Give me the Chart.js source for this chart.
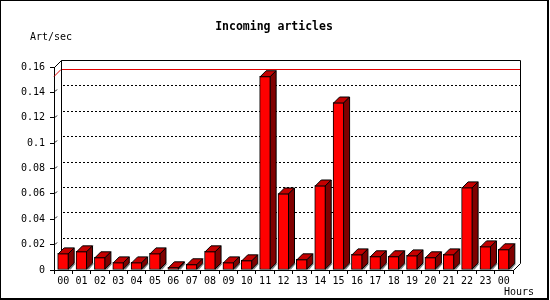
<!DOCTYPE html>
<html><head><meta charset="utf-8">
<script src="https://cdn.jsdelivr.net/npm/chart.js@4/dist/chart.umd.min.js"></script>
<style>html,body{margin:0;padding:0;background:#fff}#wrap{width:550px;height:300px}</style>
</head><body><div id="wrap"><canvas id="c" width="550" height="300"></canvas></div>
<script>
const hours = ['00','01','02','03','04','05','06','07','08','09','10','11','12','13','14','15','16','17','18','19','20','21','22','23','00'];
const articlesPerSec = [0.0131,0.0147,0.0100,0.0060,0.0060,0.0131,0.0021,0.0045,0.0147,0.0060,0.0076,0.1527,0.0603,0.0084,0.0666,0.1320,0.0123,0.0108,0.0108,0.0115,0.0100,0.0123,0.0651,0.0186,0.0163];
const yTickLabels = ['0','0.02','0.04','0.06','0.08','0.1','0.12','0.14','0.16'];
const chartTitle = 'Incoming articles';
const yAxisTitle = 'Art/sec';
const xAxisTitle = 'Hours';

const FONT = '"DejaVu Sans Mono", monospace';
const D = 6;   // bar depth
const W = 7;   // wall depth

function poly(ctx, pts, fill){
  ctx.beginPath();
  ctx.moveTo(pts[0][0], pts[0][1]);
  for (let i=1;i<pts.length;i++) ctx.lineTo(pts[i][0], pts[i][1]);
  ctx.closePath();
  if (fill){ ctx.fillStyle = fill; ctx.fill(); }
  ctx.stroke();
}

const threeD = {
  id: 'threeD',
  beforeDatasetsDraw(chart){
    const {ctx, chartArea:a, scales:{x, y}} = chart;
    ctx.save();
    ctx.lineWidth = 1;
    ctx.strokeStyle = '#000';
    // back-wall dotted grid lines
    ctx.setLineDash([2,2]);
    y.ticks.forEach(t => {
      if (t.value <= 0 || t.value >= y.max) return;
      const py = Math.round(y.getPixelForValue(t.value)) - W + 0.5;
      ctx.beginPath(); ctx.moveTo(a.left + W + 2, py); ctx.lineTo(a.right + W, py); ctx.stroke();
    });
    ctx.setLineDash([]);
    // short depth connectors
    y.ticks.forEach(t => {
      if (t.value <= 0 || t.value >= y.max) return;
      const py = Math.round(y.getPixelForValue(t.value)) + 0.5;
      ctx.beginPath(); ctx.moveTo(a.left + 1, py - 1); ctx.lineTo(a.left + 3, py - 3); ctx.stroke();
    });
    // red max line
    const max = Math.max(...chart.data.datasets[0].data);
    const pm = Math.round(y.getPixelForValue(max)) + 0.5;
    ctx.strokeStyle = '#e00000';
    ctx.beginPath(); ctx.moveTo(a.left, pm); ctx.lineTo(a.left + W, pm - W); ctx.lineTo(a.right + W, pm - W); ctx.stroke();
    // back wall outline
    ctx.strokeStyle = '#000';
    const L = Math.round(a.left) + 0.5, R = Math.round(a.right) + 0.5, T = Math.round(a.top) + 0.5, B = Math.round(a.bottom) + 0.5;
    ctx.beginPath();
    ctx.moveTo(L, T); ctx.lineTo(L + W, T - W); ctx.lineTo(R + W, T - W); ctx.lineTo(R + W, B - W); ctx.lineTo(R, B);
    ctx.moveTo(L + W, T - W); ctx.lineTo(L + W, B - W);
    ctx.stroke();
    // floor shadows
    const meta = chart.getDatasetMeta(0);
    ctx.fillStyle = '#808080';
    meta.data.forEach(bar => {
      const p = bar.getProps(['x','base','width'], true);
      const r = p.x + p.width/2, b = p.base;
      ctx.beginPath();
      ctx.moveTo(r - 1, b); ctx.lineTo(r - 1 + D, b - D); ctx.lineTo(r + D + 1, b - D); ctx.lineTo(r + 2, b);
      ctx.closePath(); ctx.fill();
    });
    ctx.restore();
  },
  afterDatasetsDraw(chart){
    const {ctx} = chart;
    const meta = chart.getDatasetMeta(0);
    ctx.save();
    ctx.lineWidth = 1;
    ctx.strokeStyle = '#000';
    meta.data.forEach(bar => {
      const p = bar.getProps(['x','y','base','width'], true);
      const l = p.x - p.width/2 + 0.5, r = p.x + p.width/2 - 0.5, t = p.y + 0.5, b = p.base - 0.5;
      poly(ctx, [[l,t],[l+D,t-D],[r+D,t-D],[r,t]], '#c40000');
      poly(ctx, [[r,t],[r+D,t-D],[r+D,b-D],[r,b]], '#800000');
    });
    ctx.restore();
  },
  afterDraw(chart){
    const {ctx} = chart;
    ctx.save();
    ctx.fillStyle = '#000';
    ctx.textBaseline = 'middle';
    ctx.font = 'bold 11.5px ' + FONT;
    ctx.textAlign = 'center';
    ctx.fillText(chartTitle, 274, 27);
    ctx.font = '10px ' + FONT;
    ctx.textAlign = 'left';
    ctx.fillText(yAxisTitle, 30, 37);
    ctx.fillText(xAxisTitle, 504, 292);
    // frame
    ctx.fillRect(0, 0, 549, 1);
    ctx.fillRect(0, 0, 1, 300);
    ctx.fillRect(547, 0, 2, 300);
    ctx.fillRect(0, 298, 549, 2);
    ctx.restore();
  }
};

new Chart(document.getElementById('c'), {
  type: 'bar',
  data: {
    labels: hours,
    datasets: [{
      data: articlesPerSec,
      backgroundColor: '#ff0000',
      borderColor: '#000',
      borderWidth: 1,
      barThickness: 11,
      borderSkipped: false
    }]
  },
  options: {
    responsive: false,
    animation: false,
    devicePixelRatio: 1,
    layout: { padding: { left: 0, top: 67, right: 37, bottom: 0 } },
    plugins: { legend: { display: false }, tooltip: { enabled: false }, title: { display: false } },
    scales: {
      x: {
        afterFit: s => { s.height = 30; },
        grid: { drawOnChartArea: false, tickLength: 4, tickColor: '#000', offset: true },
        border: { display: true, color: '#000', width: 1 },
        ticks: { color: '#000', font: { family: FONT, size: 10 }, padding: 1, maxRotation: 0, autoSkip: false }
      },
      y: {
        min: 0, max: 0.16,
        afterFit: s => { s.width = 54; },
        grid: { drawOnChartArea: false, tickLength: 4, tickColor: '#000' },
        border: { display: true, color: '#000', width: 1 },
        ticks: { stepSize: 0.02, color: '#000', font: { family: FONT, size: 10 }, padding: 5,
          callback: (v, i) => yTickLabels[i] ?? v }
      }
    }
  },
  plugins: [threeD]
});
</script>
</body></html>
